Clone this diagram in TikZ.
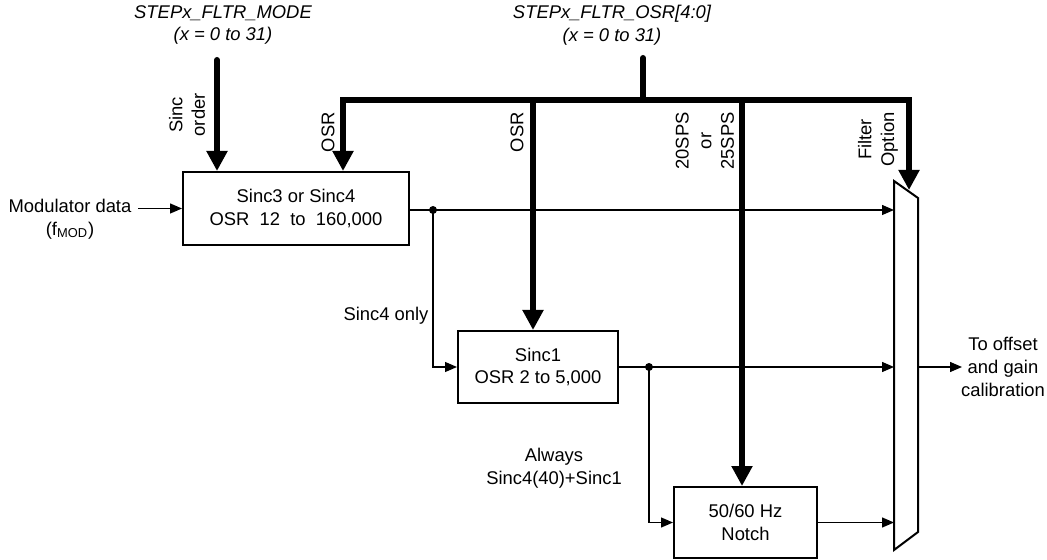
\documentclass[tikz,border=0pt]{standalone}
\usepackage{fontspec}
\setmainfont{Liberation Sans}
\usetikzlibrary{arrows.meta,calc}
\begin{document}
\begin{tikzpicture}[x=0.5pt,y=-0.5pt,
  font=\fontsize{9.2}{11.3}\selectfont,
  thin arr/.style={line width=0.65pt,-{Triangle[length=6pt,width=5pt]}},
  thinline/.style={line width=0.65pt},
  bus/.style={line width=3pt,line join=miter},
  busarr/.style={bus,-{Triangle[length=10pt,width=10pt]}},
  blk/.style={draw,line width=1pt,align=center,inner sep=0pt},
  lbl/.style={align=center,inner sep=0pt},
  rlbl/.style={align=center,inner sep=0pt,rotate=90,anchor=east},
  dot/.style={circle,fill,inner sep=0pt,minimum size=4pt}]
\useasboundingbox (0,0) rectangle (1047,560);

% titles
\node[lbl,font=\fontsize{9.2}{11.3}\selectfont\itshape] (t1) at (223,25) {STEPx\_FLTR\_MODE\\(x = 0 to 31)};
\node[lbl,font=\fontsize{9.2}{11.3}\selectfont\itshape] (t2) at (612,25) {STEPx\_FLTR\_OSR[4:0]\\(x = 0 to 31)};

% blocks
\node[blk,minimum width=113pt,minimum height=36.5pt] (sinc) at (296,208.5) {Sinc3 or Sinc4\\OSR\ \ 12\ \ to\ \ 160,000};
\node[blk,minimum width=80pt,minimum height=36pt] (sinc1) at (538,367) {Sinc1\\OSR 2 to 5,000};
\node[blk,minimum width=71.5pt,minimum height=35.5pt] (notch) at (745.5,522.5) {50/60 Hz\\Notch};

% mux
\coordinate (mtl) at (894,181);
\coordinate (mtr) at (918,198);
\coordinate (mbr) at (918,532);
\coordinate (mbl) at (894,550);
\draw[line width=1pt,line join=miter,fill=white] (mtl) -- (mtr) -- (mbr) -- (mbl) -- cycle;
\coordinate (mtip) at (909,190);

% input
\node[lbl] (mod) at (70,219) {Modulator data\\(f\textsubscript{MOD})};
\draw[thin arr] (138,208.5) -- (sinc.west);

% bus
\coordinate (busL) at (343,100);
\coordinate (busR) at (909,100);
\coordinate (busIn) at (643,58);
\coordinate (b2) at (533,100);
\coordinate (b3) at (742,100);
\draw[bus,line cap=round] (busIn) -- (busIn |- busL);
\draw[bus,{Triangle[length=10pt,width=10pt]}-{Triangle[length=10pt,width=10pt]}] (busL |- sinc.north) -- (busL) -- (busR) -- (mtip);
\draw[busarr] (b2) -- (b2 |- sinc1.north);
\draw[busarr] (b3) -- (b3 |- notch.north);
\coordinate (so) at (217,60);
\draw[busarr,line cap=round] (so) -- (so |- sinc.north);

% rotated labels
\node[rlbl] (l1) at (187,93) {Sinc\\order};
\node[rlbl] (l2) at (328,112) {OSR};
\node[rlbl] (l3) at (517,112) {OSR};
\node[rlbl] (l4) at (705,112) {20SPS\\or\\25SPS};
\node[rlbl] (l5) at (878,112) {Filter\\Option};

% signal paths
\coordinate (j1) at (433,210);
\coordinate (j2) at (649,367);
\draw[thin arr] (sinc.east |- j1) -- (j1 -| mtl);
\node[dot] (d1) at (j1) {};
\draw[thin arr] (j1) |- (sinc1.west);
\draw[thin arr] (sinc1.east) -- (j2 -| mtl);
\node[dot] (d2) at (j2) {};
\draw[thin arr] (j2) |- (notch.west);
\draw[thin arr] (notch.east) -- (notch.east -| mtl);

% output
\node[lbl] (out) at (1003,367) {To offset\\and gain\\calibration};
\draw[thin arr] (918,367) -- (962,367);

% annotations
\node[lbl] (a1) at (386,316) {Sinc4 only};
\node[lbl] (a2) at (554,468) {Always\\Sinc4(40)+Sinc1};
\end{tikzpicture}
\end{document}
